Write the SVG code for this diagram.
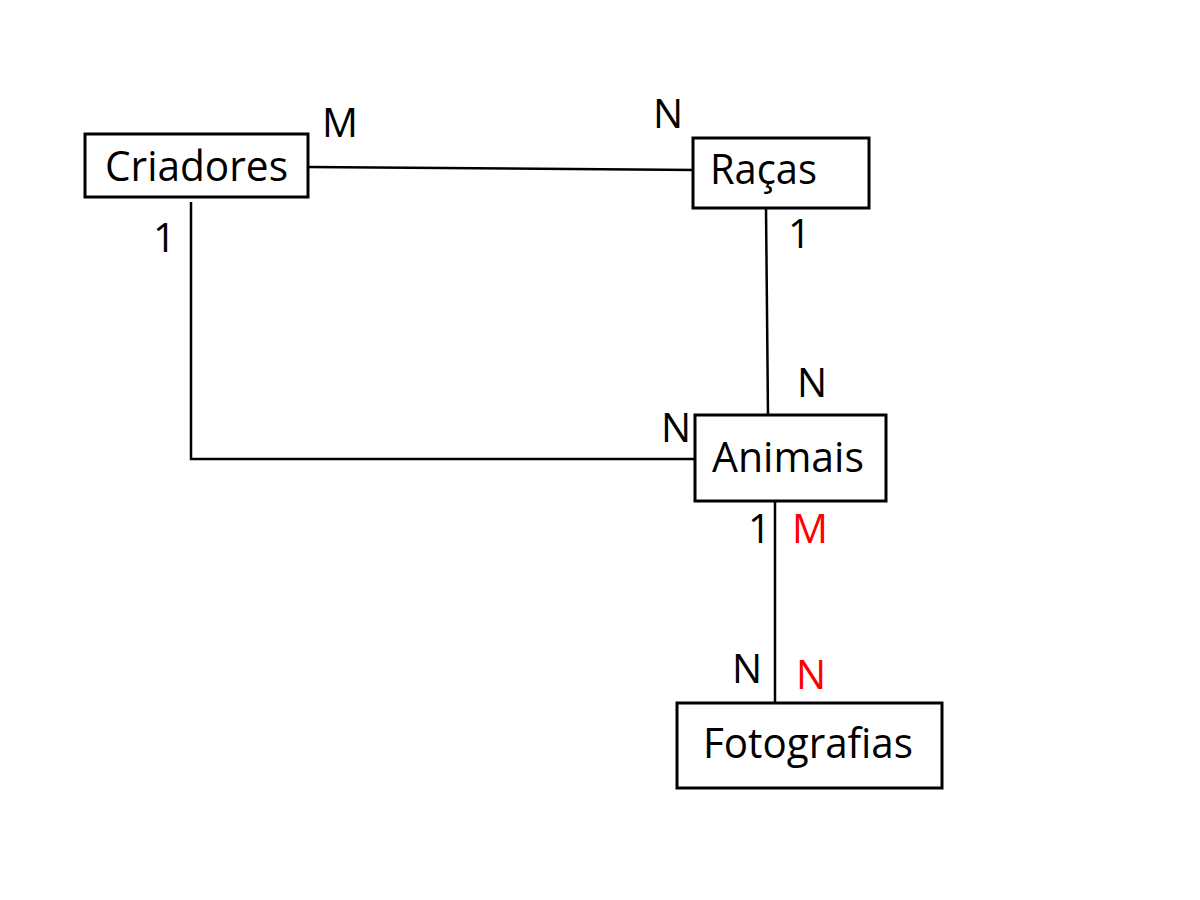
<svg xmlns="http://www.w3.org/2000/svg" width="1200" height="900" viewBox="0 0 1200 900">
<style>
.box{fill:#fff;stroke:#000;stroke-width:3}
.name{font-family:"Open Sans","Liberation Sans",sans-serif;font-size:42px;fill:#000}
.card{font-family:"Open Sans","Liberation Sans",sans-serif;font-size:40px;fill:#000}
.red{fill:#ff0000}
.conn{stroke:#000;stroke-width:2.5;fill:none}
</style>
<rect width="1200" height="900" fill="#fff"/>
<g id="connectors">
<line class="conn" x1="308" y1="167" x2="697" y2="170"/>
<line class="conn" x1="766" y1="208" x2="768" y2="415"/>
<polyline class="conn" points="191,202 191,459 695,459"/>
<line class="conn" x1="775" y1="501" x2="775" y2="703"/>
</g>
<g id="criadores">
<rect class="box" x="85" y="134" width="223" height="63"/>
<text class="name" x="105" y="181" textLength="183" lengthAdjust="spacingAndGlyphs">Criadores</text>
</g>
<g id="racas">
<rect class="box" x="693" y="138" width="176" height="70"/>
<text class="name" x="710" y="184" textLength="107" lengthAdjust="spacingAndGlyphs">Raças</text>
</g>
<g id="animais">
<rect class="box" x="695" y="415" width="191" height="86"/>
<text class="name" x="712" y="472" textLength="152" lengthAdjust="spacingAndGlyphs">Animais</text>
</g>
<g id="fotografias">
<rect class="box" x="677" y="703" width="265" height="85"/>
<text class="name" x="703" y="758" textLength="210" lengthAdjust="spacingAndGlyphs">Fotografias</text>
</g>
<g id="labels">
<text class="card" x="322" y="137">M</text>
<text class="card" x="653" y="128">N</text>
<text class="card" x="153" y="252">1</text>
<text class="card" x="788" y="248">1</text>
<text class="card" x="797" y="397">N</text>
<text class="card" x="661" y="442">N</text>
<text class="card" x="748" y="543">1</text>
<text class="card red" x="792" y="543">M</text>
<text class="card" x="732" y="683">N</text>
<text class="card red" x="796" y="689">N</text>
</g>
</svg>
